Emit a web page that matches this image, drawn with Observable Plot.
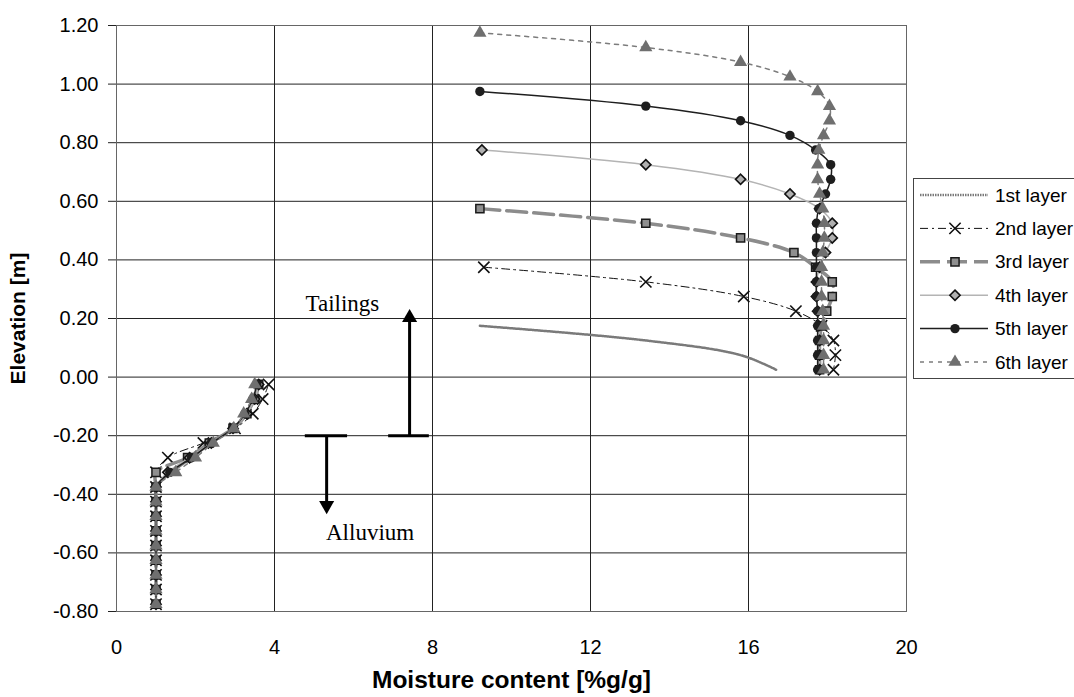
<!DOCTYPE html>
<html><head><meta charset="utf-8">
<script src="https://cdn.jsdelivr.net/npm/d3@7"></script>
<script src="https://cdn.jsdelivr.net/npm/@observablehq/plot@0.6"></script>
<style>
body{margin:0;background:#fff;overflow:hidden;}
#wrap{position:relative;width:1074px;height:697px;overflow:hidden;background:#fff;}
#legend{position:absolute;left:913px;top:178px;}
</style></head><body><div id="wrap"></div>
<script>
// ---------- data ----------
const layerNames = ["1st layer","2nd layer","3rd layer","4th layer","5th layer","6th layer"];
const elevTailings = [1.175,1.125,1.075,1.025,0.975,0.925,0.875,0.825,0.775,0.725,0.675,0.625,0.575,0.525,0.475,0.425,0.375,0.325,0.275,0.225,0.175,0.125,0.075,0.025];
const elevAlluvium = [-0.025,-0.075,-0.125,-0.175,-0.225,-0.275,-0.325,-0.375,-0.425,-0.475,-0.525,-0.575,-0.625,-0.675,-0.725,-0.775];

// moisture content in the tailings, from the top of each profile down to 0.025 m
const tail1 = [9.2,13.4,15.8,16.7];
const tail2 = [9.3,13.4,15.88,17.2,17.85,18.15,18.2,18.15];
const tail3 = [9.2,13.4,15.8,17.15,17.7,18.12,18.12,17.98,17.85,17.8,17.8,17.8];
const tail4 = [9.25,13.4,15.8,17.05,17.8,18.12,18.12,17.95,17.8,17.72,17.72,17.75,17.78,17.8,17.8,17.8];
const tail5 = [9.2,13.4,15.8,17.05,17.7,18.08,18.08,17.95,17.78,17.72,17.72,17.72,17.72,17.72,17.72,17.75,17.75,17.75,17.75,17.75];
const tail6 = [9.2,13.4,15.8,17.05,17.75,18.05,18.05,17.9,17.78,17.75,17.75,17.8,17.88,17.92,17.92,17.88,17.85,17.85,17.85,17.88,17.9,17.9,17.9,17.9];

// moisture content in the alluvium, -0.025 m to -0.775 m
const alluv1 = [3.6,3.5,3.3,2.95,2.4,1.9,1.4,1.0,1.0,1.0,1.0,1.0,1.0,1.0,1.0,1.0];
const alluv2 = [3.85,3.7,3.45,3.0,2.2,1.3,1.0,1.0,1.0,1.0,1.0,1.0,1.0,1.0,1.0,1.0];
const alluv3 = [3.6,3.5,3.3,2.95,2.35,1.8,1.0,1.0,1.0,1.0,1.0,1.0,1.0,1.0,1.0,1.0];
const alluv4 = [3.6,3.5,3.3,2.95,2.4,1.85,1.3,1.0,1.0,1.0,1.0,1.0,1.0,1.0,1.0,1.0];
const alluv5 = [3.55,3.45,3.25,2.95,2.4,1.9,1.35,1.0,1.0,1.0,1.0,1.0,1.0,1.0,1.0,1.0];
const alluv6 = [3.5,3.42,3.22,2.97,2.45,2.0,1.5,1.0,1.0,1.0,1.0,1.0,1.0,1.0,1.0,1.0];

const xTicks = [0,4,8,12,16,20];
const yTicks = [-0.8,-0.6,-0.4,-0.2,0,0.2,0.4,0.6,0.8,1.0,1.2];

// annotation (material labels and boundary arrows)
const noteText = ["Tailings","Alluvium"];
const noteX = [5.72, 6.42];
const noteY = [0.25, -0.532];
const barX1 = [4.78, 6.89];
const barX2 = [5.85, 7.92];
const barY = [-0.2, -0.2];
const arrowX = [5.32, 7.42];
const arrowHeadY = [-0.438, 0.2025];
const arrowRotate = [180, 0];

// ---------- styles ----------
const styles = [
  {stroke:"#7a7a7a", sw:2.5, dash:"1.5,1", symbol:null},
  {stroke:"#111", sw:1, dash:"8,4,2,4", symbol:"times", fill:"none", mstroke:"#111", msw:1.6, r:5.2},
  {stroke:"#8c8c8c", sw:3.5, dash:"20,7", symbol:"square", fill:"#8f8f8f", mstroke:"#1a1a1a", msw:1.5, r:4.6},
  {stroke:"#b4b4b4", sw:1.5, dash:null, symbol:"diamond2", fill:"#b0b0b0", mstroke:"#111", msw:1.6, r:4.6},
  {stroke:"#1e1e1e", sw:1.5, dash:null, symbol:"circle", fill:"#1e1e1e", mstroke:"none", msw:0, r:4.7},
  {stroke:"#7c7c7c", sw:1.5, dash:"4,5", symbol:"triangle", fill:"#6f6f6f", mstroke:"none", msw:0, r:4.9}
];

const tails = [tail1,tail2,tail3,tail4,tail5,tail6];
const alluvs = [alluv1,alluv2,alluv3,alluv4,alluv5,alluv6];
const series = layerNames.map((name,i) => {
  const t = tails[i];
  const et = elevTailings.slice(elevTailings.length - t.length);
  const rows = t.map((m,j) => ({layer:name, part:"tailings", m, e:et[j]}));
  alluvs[i].forEach((m,j) => rows.push({layer:name, part:"alluvium", m, e:elevAlluvium[j]}));
  return rows;
});

const font = "'Liberation Sans', Arial, Helvetica, sans-serif";
const marks = [
  Plot.gridX(xTicks, {stroke:"#222", strokeOpacity:1}),
  Plot.gridY(yTicks, {stroke:"#222", strokeOpacity:1}),
  Plot.frame({stroke:"#666"}),
  Plot.axisY(yTicks, {tickSize:8, tickPadding:10, tickFormat:d=>d.toFixed(2), stroke:"#222", label:null, fontSize:20}),
  Plot.axisX(xTicks, {tickSize:0, tickPadding:28, tickFormat:d=>String(d), label:null, fontSize:20}),
  Plot.text([0], {frameAnchor:"left", dx:-98, rotate:-90, textAnchor:"middle", lineAnchor:"middle", text:()=>"Elevation [m]", fontSize:21, fontWeight:"bold"}),
  Plot.text([0], {frameAnchor:"bottom", dy:69, textAnchor:"middle", lineAnchor:"middle", text:()=>"Moisture content [%g/g]", fontSize:24.5, fontWeight:"bold"})
];
series.forEach((rows,i) => {
  const s = styles[i];
  marks.push(Plot.line(rows, {x:"m", y:"e", z:"part", curve:"catmull-rom", stroke:s.stroke, strokeWidth:s.sw, strokeDasharray:s.dash || undefined}));
  if (s.symbol) marks.push(Plot.dot(rows, {x:"m", y:"e", symbol:s.symbol, r:s.r, fill:s.fill, stroke:s.mstroke, strokeWidth:s.msw}));
});
// annotation marks
marks.push(
  Plot.ruleY(barY.map((y,i)=>({y, x1:barX1[i], x2:barX2[i]})), {y:"y", x1:"x1", x2:"x2", stroke:"#000", strokeWidth:3}),
  Plot.ruleX(arrowX.map((x,i)=>({x, y1:barY[i], y2:arrowHeadY[i]})), {x:"x", y1:"y1", y2:"y2", stroke:"#000", strokeWidth:3}),
  Plot.dot(arrowX.map((x,i)=>({x, y:arrowHeadY[i], rot:arrowRotate[i]})), {x:"x", y:"y", rotate:"rot", symbol:"triangle", r:5.6, fill:"#000", stroke:"none"}),
  Plot.text(noteText.map((t,i)=>({t, x:noteX[i], y:noteY[i]})), {x:"x", y:"y", text:"t", fontFamily:"'Liberation Serif', 'Times New Roman', serif", fontSize:23, fill:"#000"})
);

const chart = Plot.plot({
  width:1074, height:697,
  marginLeft:116, marginRight:168, marginTop:25, marginBottom:86,
  x:{domain:[0,20]},
  y:{domain:[-0.8,1.2]},
  style:{fontFamily:font, fontSize:"20px", background:"#fff", color:"#000", overflow:"visible"},
  marks
});
document.getElementById("wrap").appendChild(chart);

// ---------- legend ----------
const lw = 200, lh = 201;
const leg = d3.select("#wrap").append("svg").attr("id","legend").attr("width",lw).attr("height",lh)
  .style("font-family", font).style("font-size","19px");
leg.append("rect").attr("x",0.5).attr("y",0.5).attr("width",lw).attr("height",lh-1).attr("fill","#fff").attr("stroke","#444");
const symMap = {times:d3.symbolTimes, square:d3.symbolSquare, diamond2:d3.symbolDiamond2, circle:d3.symbolCircle, triangle:d3.symbolTriangle};
layerNames.forEach((name,i) => {
  const s = styles[i];
  const y = 17 + 33.4*i;
  leg.append("line").attr("x1",7).attr("x2",75).attr("y1",y).attr("y2",y)
    .attr("stroke",s.stroke).attr("stroke-width",s.sw).attr("stroke-dasharray",s.dash || null);
  if (s.symbol) {
    leg.append("path").attr("transform",`translate(42,${y})`)
      .attr("d", d3.symbol(symMap[s.symbol], s.r*s.r*Math.PI)())
      .attr("fill", s.fill).attr("stroke", s.mstroke).attr("stroke-width", s.msw);
  }
  leg.append("text").attr("x",82).attr("y",y).attr("dy","0.35em").attr("fill","#000").text(name);
});
</script>
</body></html>
